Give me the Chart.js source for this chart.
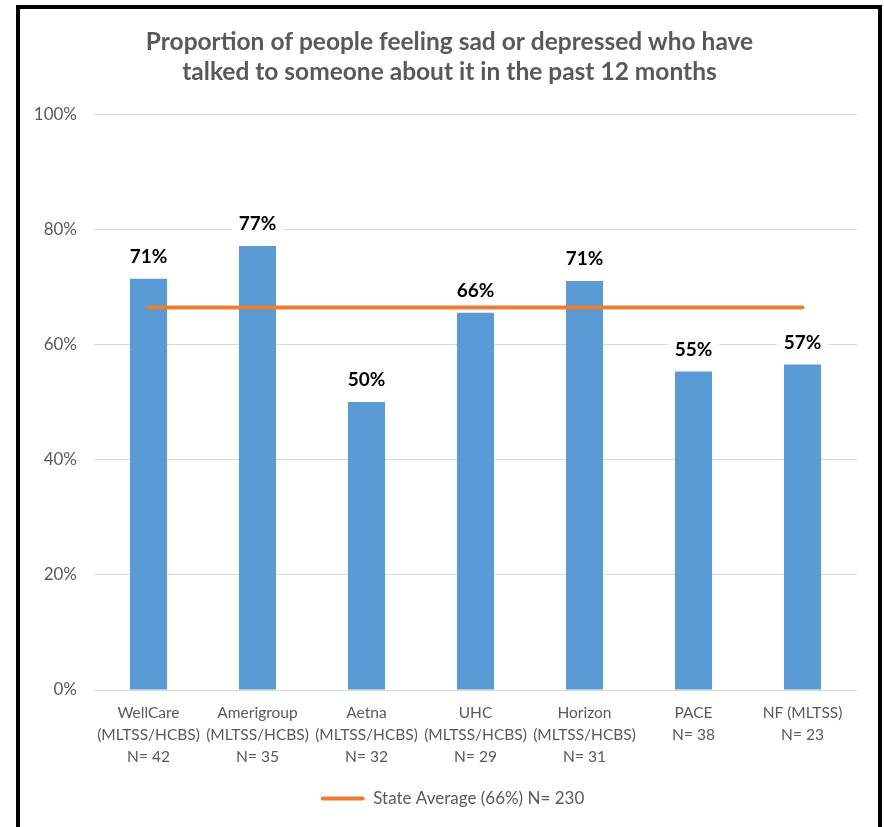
<!DOCTYPE html>
<html><head><meta charset="utf-8">
<script src="https://cdn.jsdelivr.net/npm/chart.js@4/dist/chart.umd.min.js"></script>
<style>
html,body{margin:0;padding:0;background:#fff;overflow:hidden;}
#wrap{position:absolute;left:0;top:0;width:884px;height:827px;}
#frame{position:absolute;left:16px;top:5px;width:858px;height:840px;border:4px solid #000;border-bottom:none;pointer-events:none;}
</style></head><body>
<div id="wrap"><canvas id="c" width="884" height="827"></canvas></div>
<div id="frame"></div>
<script>
const categories = [
  ['WellCare', '(MLTSS/HCBS)', 'N= 42'],
  ['Amerigroup', '(MLTSS/HCBS)', 'N= 35'],
  ['Aetna', '(MLTSS/HCBS)', 'N= 32'],
  ['UHC', '(MLTSS/HCBS)', 'N= 29'],
  ['Horizon', '(MLTSS/HCBS)', 'N= 31'],
  ['PACE', 'N= 38'],
  ['NF (MLTSS)', 'N= 23']
];
const groupValues = [71.4, 77.1, 50.0, 65.5, 71.0, 55.3, 56.5];
const valueLabels = ['71%', '77%', '50%', '66%', '71%', '55%', '57%'];
const stateAverage = [66.4, 66.4, 66.4, 66.4, 66.4, 66.4, 66.4];
const stateLabel = 'State Average (66%) N= 230';
const yTicks = [0, 20, 40, 60, 80, 100];
const titleLines = ['Proportion of people feeling sad or depressed who have', 'talked to someone about it in the past 12 months'];

const FONT = 'Lato, "Open Sans", sans-serif';
const GRAY = '#595959';

const barLabels = {
  id: 'barLabels',
  afterLayout(chart) {
    // centre title and legend on the plot area, as in the reference
    if (chart.legend) { chart.legend.left += 48; }
    if (chart.titleBlock) { chart.titleBlock.left += 42; }
  },
  afterDatasetsDraw(chart) {
    const meta = chart.getDatasetMeta(0);
    const ctx = chart.ctx;
    ctx.save();
    ctx.font = 'bold 19px ' + FONT;
    ctx.textAlign = 'center';
    ctx.textBaseline = 'middle';
    meta.data.forEach((bar, i) => {
      const txt = valueLabels[i];
      const w = ctx.measureText(txt).width;
      const cy = bar.y - 22;
      ctx.fillStyle = '#fff';
      ctx.fillRect(bar.x - w / 2 - 7, cy - 12, w + 14, 24);
      ctx.fillStyle = '#000';
      ctx.fillText(txt, bar.x, cy);
    });
    ctx.restore();
  }
};

new Chart(document.getElementById('c'), {
  data: {
    labels: categories,
    datasets: [
      {
        type: 'bar',
        label: 'Proportion',
        data: groupValues,
        backgroundColor: '#5B9BD5',
        borderWidth: 0,
        barPercentage: 0.34,
        categoryPercentage: 1.0,
        order: 1
      },
      {
        type: 'line',
        label: stateLabel,
        data: stateAverage,
        borderColor: '#ED7D31',
        backgroundColor: '#ED7D31',
        borderWidth: 4,
        borderCapStyle: 'round',
        pointRadius: 0,
        fill: false,
        order: 0
      }
    ]
  },
  options: {
    responsive: false,
    devicePixelRatio: 1,
    animation: false,
    layout: { padding: { left: 0, right: 27, top: 0, bottom: 10 } },
    plugins: {
      tooltip: { enabled: false },
      title: {
        display: true,
        text: titleLines,
        color: GRAY,
        font: { family: FONT, size: 24.5, weight: 'bold', lineHeight: 1.225 },
        padding: { top: 27, bottom: 27 }
      },
      legend: {
        display: true,
        position: 'bottom',
        labels: {
          color: GRAY,
          font: { family: FONT, size: 17 },
          boxWidth: 44,
          boxHeight: 4,
          padding: 10,
          generateLabels: () => [{
            text: stateLabel,
            fillStyle: '#ED7D31',
            strokeStyle: '#ED7D31',
            lineWidth: 0,
            borderRadius: 2,
            datasetIndex: 1,
            hidden: false,
            fontColor: GRAY
          }]
        }
      }
    },
    scales: {
      x: {
        grid: { display: false, drawTicks: false },
        border: { display: false },
        ticks: {
          color: GRAY,
          font: { family: FONT, size: 15.5, lineHeight: 1.42 },
          padding: 12,
          maxRotation: 0,
          autoSkip: false
        },
        afterFit(scale) { scale.height = 90; }
      },
      y: {
        min: 0,
        max: 100,
        afterBuildTicks(scale) { scale.ticks = yTicks.map(v => ({ value: v })); },
        grid: { color: '#D9D9D9', lineWidth: 1, drawTicks: false },
        border: { display: false },
        ticks: {
          color: GRAY,
          font: { family: FONT, size: 17 },
          padding: 17,
          callback: v => v + '%'
        },
        afterFit(scale) { scale.width = 94; }
      }
    }
  },
  plugins: [barLabels]
});
</script>
</body></html>
